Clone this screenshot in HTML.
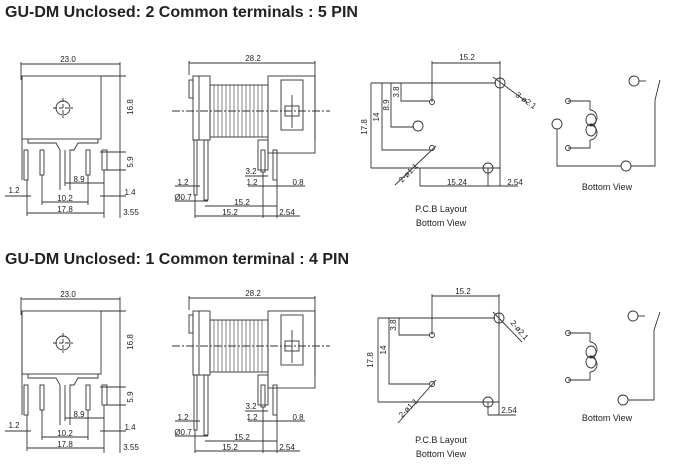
<!DOCTYPE html><html><head><style>body{margin:0;background:#fff}svg{display:block}text{font-family:"Liberation Sans",sans-serif;fill:#222}</style></head><body>
<svg width="681" height="470" viewBox="0 0 681 470" xmlns="http://www.w3.org/2000/svg" stroke="#333" stroke-width="0.9" fill="none">
<defs>
<g id="draw">
 <line x1="21" y1="64" x2="120" y2="64"/><line x1="21" y1="62" x2="21" y2="80"/><line x1="120" y1="62" x2="120" y2="218"/>
 <rect x="22" y="76" width="79" height="63"/>
 <line x1="22" y1="76" x2="22" y2="180"/>
 <line x1="101" y1="76" x2="126" y2="76"/>
 <circle cx="63" cy="108" r="7"/><line x1="53" y1="108" x2="73" y2="108" stroke-dasharray="4 2"/><line x1="63" y1="98" x2="63" y2="118" stroke-dasharray="4 2"/>
 <polyline points="28,139 28,143 56,143 60,150 60,190"/><polyline points="98,139 98,143 78,143 74,150 70,150 70,190"/>
 <rect x="40" y="150" width="4" height="25"/><rect x="86" y="150" width="4" height="25"/>
 <rect x="24" y="150" width="4" height="30"/>
 <rect x="102" y="150" width="5" height="20"/>
 <line x1="100" y1="152" x2="126" y2="152"/><line x1="104" y1="170" x2="126" y2="170"/>
 <line x1="65" y1="183" x2="104" y2="183"/><line x1="65" y1="150" x2="65" y2="186"/><line x1="104" y1="170" x2="104" y2="218"/>
 <line x1="5" y1="196" x2="31" y2="196"/><line x1="42" y1="175" x2="42" y2="205"/><line x1="88" y1="175" x2="88" y2="205"/>
 <line x1="42" y1="202" x2="88" y2="202"/><line x1="27" y1="180" x2="27" y2="216"/><line x1="27" y1="213" x2="104" y2="213"/>
 <line x1="100" y1="196" x2="126" y2="196"/>
 <line x1="189" y1="63" x2="315" y2="63"/><line x1="189" y1="61" x2="189" y2="75"/><line x1="315" y1="61" x2="315" y2="140"/>
 <rect x="189" y="80" width="4" height="18"/>
 <rect x="193" y="76" width="17" height="64"/><line x1="199" y1="76" x2="199" y2="140"/>
 <rect x="210" y="85" width="58" height="52"/>
 <path d="M214 85V137M218 85V137M222 85V137M226 85V137M230 85V137M234 85V137M238 85V137M242 85V137M246 85V137M250 85V137M254 85V137M258 85V137M262 85V137" stroke-width="0.6"/>
 <rect x="268" y="76" width="47" height="77"/><rect x="281" y="80" width="22" height="50"/>
 <line x1="172" y1="111" x2="330" y2="111" stroke-dasharray="8 2 2 2"/>
 <rect x="285" y="106" width="14" height="10"/><line x1="292" y1="95" x2="292" y2="128"/>
 <rect x="194" y="140" width="3" height="55"/><rect x="204" y="140" width="4" height="60"/>
 <rect x="258" y="140" width="10" height="30"/><rect x="261" y="150" width="4" height="22"/>
 <rect x="273" y="150" width="4" height="30"/>
 <line x1="175" y1="186" x2="200" y2="186"/><line x1="175" y1="201" x2="208" y2="201"/>
 <line x1="245" y1="176" x2="268" y2="176"/><line x1="248" y1="186" x2="280" y2="186"/><line x1="275" y1="186" x2="305" y2="186"/>
 <line x1="205" y1="206" x2="277" y2="206"/><line x1="195" y1="195" x2="195" y2="218"/><line x1="195" y1="216" x2="300" y2="216"/>
 <line x1="263" y1="172" x2="263" y2="218"/><line x1="277" y1="180" x2="277" y2="218"/>
</g>
<g id="lab" stroke="none">
 <text x="68" y="62" font-size="8" text-anchor="middle">23.0</text>
 <text x="133" y="107" font-size="8" text-anchor="middle" transform="rotate(-90 133 107)">16.8</text>
 <text x="133" y="162" font-size="8" text-anchor="middle" transform="rotate(-90 133 162)">5.9</text>
 <text x="79" y="182" font-size="8" text-anchor="middle">8.9</text>
 <text x="14" y="193" font-size="8" text-anchor="middle">1.2</text>
 <text x="130" y="195" font-size="8" text-anchor="middle">1.4</text>
 <text x="65" y="201" font-size="8" text-anchor="middle">10.2</text>
 <text x="65" y="212" font-size="8" text-anchor="middle">17.8</text>
 <text x="131" y="215" font-size="8" text-anchor="middle">3.55</text>
 <text x="253" y="61" font-size="8" text-anchor="middle">28.2</text>
 <text x="183" y="185" font-size="8" text-anchor="middle">1.2</text>
 <text x="183" y="200" font-size="8" text-anchor="middle">Ø0.7</text>
 <text x="251" y="174" font-size="8" text-anchor="middle">3.2</text>
 <text x="252" y="185" font-size="8" text-anchor="middle">1.2</text>
 <text x="298" y="185" font-size="8" text-anchor="middle">0.8</text>
 <text x="242" y="205" font-size="8" text-anchor="middle">15.2</text>
 <text x="230" y="215" font-size="8" text-anchor="middle">15.2</text>
 <text x="287" y="215" font-size="8" text-anchor="middle">2.54</text>
</g>
<g id="coil">
 <polyline points="568,101 590,101 590,110"/><polyline points="590,140 590,148 568,148"/>
 <path d="M590 110 A7 7.5 0 0 1 590 125 A7 7.5 0 0 1 590 140"/>
 <ellipse cx="591" cy="120" rx="5" ry="6"/><ellipse cx="591" cy="130" rx="5" ry="6"/>
</g>
</defs>
<text x="5" y="17" font-size="16" font-weight="bold" stroke="none">GU-DM Unclosed: 2 Common terminals : 5 PIN</text>
<text x="5" y="264" font-size="16" font-weight="bold" stroke="none">GU-DM Unclosed:  1 Common terminal : 4 PIN</text>
<use href="#draw"/><use href="#lab"/>
<g transform="translate(0,235)"><use href="#draw"/><use href="#lab"/></g>
<line x1="432" y1="63" x2="500" y2="63"/><line x1="432" y1="61" x2="432" y2="102"/><line x1="500" y1="61" x2="500" y2="186"/>
<line x1="371" y1="83" x2="496" y2="83"/><line x1="371" y1="83" x2="371" y2="168"/><line x1="371" y1="168" x2="500" y2="168"/>
<polyline points="382,83 382,150 430,150"/><polyline points="391,83 391,127 414,127"/><polyline points="401,83 401,101 430,101"/>
<circle cx="500" cy="83" r="5"/><circle cx="432" cy="102" r="2.5"/><circle cx="418" cy="126" r="5"/><circle cx="432" cy="148" r="2.5"/><circle cx="488" cy="168" r="5"/>
<line x1="493" y1="77" x2="527" y2="102"/><line x1="420" y1="168" x2="420" y2="186"/><line x1="420" y1="186" x2="518" y2="186"/><line x1="488" y1="168" x2="488" y2="186"/>
<line x1="395" y1="185" x2="436" y2="146"/>
<g stroke="none" font-size="8">
<text x="467" y="60" text-anchor="middle">15.2</text>
<text x="367" y="127" text-anchor="middle" transform="rotate(-90 367 127)">17.8</text>
<text x="379" y="117" text-anchor="middle" transform="rotate(-90 379 117)">14</text>
<text x="389" y="105" text-anchor="middle" transform="rotate(-90 389 105)">8.9</text>
<text x="399" y="92" text-anchor="middle" transform="rotate(-90 399 92)">3.8</text>
<text x="515" y="96" transform="rotate(35 515 96)">3-ø2.1</text>
<text x="402" y="183" transform="rotate(-45 402 183)">2-ø1.1</text>
<text x="457" y="185" text-anchor="middle">15.24</text>
<text x="515" y="185" text-anchor="middle">2.54</text>
<text x="441" y="212" text-anchor="middle" font-size="9">P.C.B Layout</text>
<text x="441" y="226" text-anchor="middle" font-size="9">Bottom View</text>
<text x="607" y="190" text-anchor="middle" font-size="9">Bottom View</text>
<text x="463" y="294" text-anchor="middle">15.2</text>
<text x="373" y="360" text-anchor="middle" transform="rotate(-90 373 360)">17.8</text>
<text x="386" y="350" text-anchor="middle" transform="rotate(-90 386 350)">14</text>
<text x="396" y="325" text-anchor="middle" transform="rotate(-90 396 325)">3.8</text>
<text x="510" y="323" transform="rotate(50 510 323)">2-ø2.1</text>
<text x="402" y="418" transform="rotate(-45 402 418)">2-ø1.1</text>
<text x="509" y="413" text-anchor="middle">2.54</text>
<text x="441" y="443" text-anchor="middle" font-size="9">P.C.B Layout</text>
<text x="441" y="457" text-anchor="middle" font-size="9">Bottom View</text>
<text x="607" y="421" text-anchor="middle" font-size="9">Bottom View</text>
</g>
<circle cx="568" cy="101" r="2.5"/><circle cx="568" cy="148" r="2.5"/>
<use href="#coil"/>
<circle cx="557" cy="124" r="5"/><polyline points="557,129 557,166 621,166"/><circle cx="626" cy="166" r="5"/><polyline points="631,166 655,166 655,100 660,80"/>
<circle cx="634" cy="81" r="5"/><line x1="639" y1="81" x2="646" y2="81"/>
<line x1="432" y1="296" x2="499" y2="296"/><line x1="432" y1="294" x2="432" y2="335"/><line x1="499" y1="294" x2="499" y2="415"/>
<line x1="378" y1="318" x2="495" y2="318"/><line x1="378" y1="318" x2="378" y2="402"/><line x1="378" y1="402" x2="499" y2="402"/>
<polyline points="389,318 389,384 430,384"/><polyline points="399,318 399,335 430,335"/>
<circle cx="499" cy="318" r="5"/><circle cx="432" cy="335" r="2.5"/><circle cx="432" cy="384" r="2.5"/><circle cx="488" cy="402" r="5"/>
<line x1="493" y1="312" x2="522" y2="342"/><line x1="398" y1="423" x2="436" y2="380"/>
<line x1="488" y1="402" x2="488" y2="415"/><line x1="488" y1="415" x2="516" y2="415"/>
<g transform="translate(0,232)"><circle cx="568" cy="101" r="2.5"/><circle cx="568" cy="148" r="2.5"/><use href="#coil"/></g>
<circle cx="633" cy="316" r="5"/><line x1="638" y1="316" x2="645" y2="316"/>
<polyline points="660,312 654,330 654,400 628,400"/><circle cx="623" cy="400" r="5"/>
</svg>
</body></html>
